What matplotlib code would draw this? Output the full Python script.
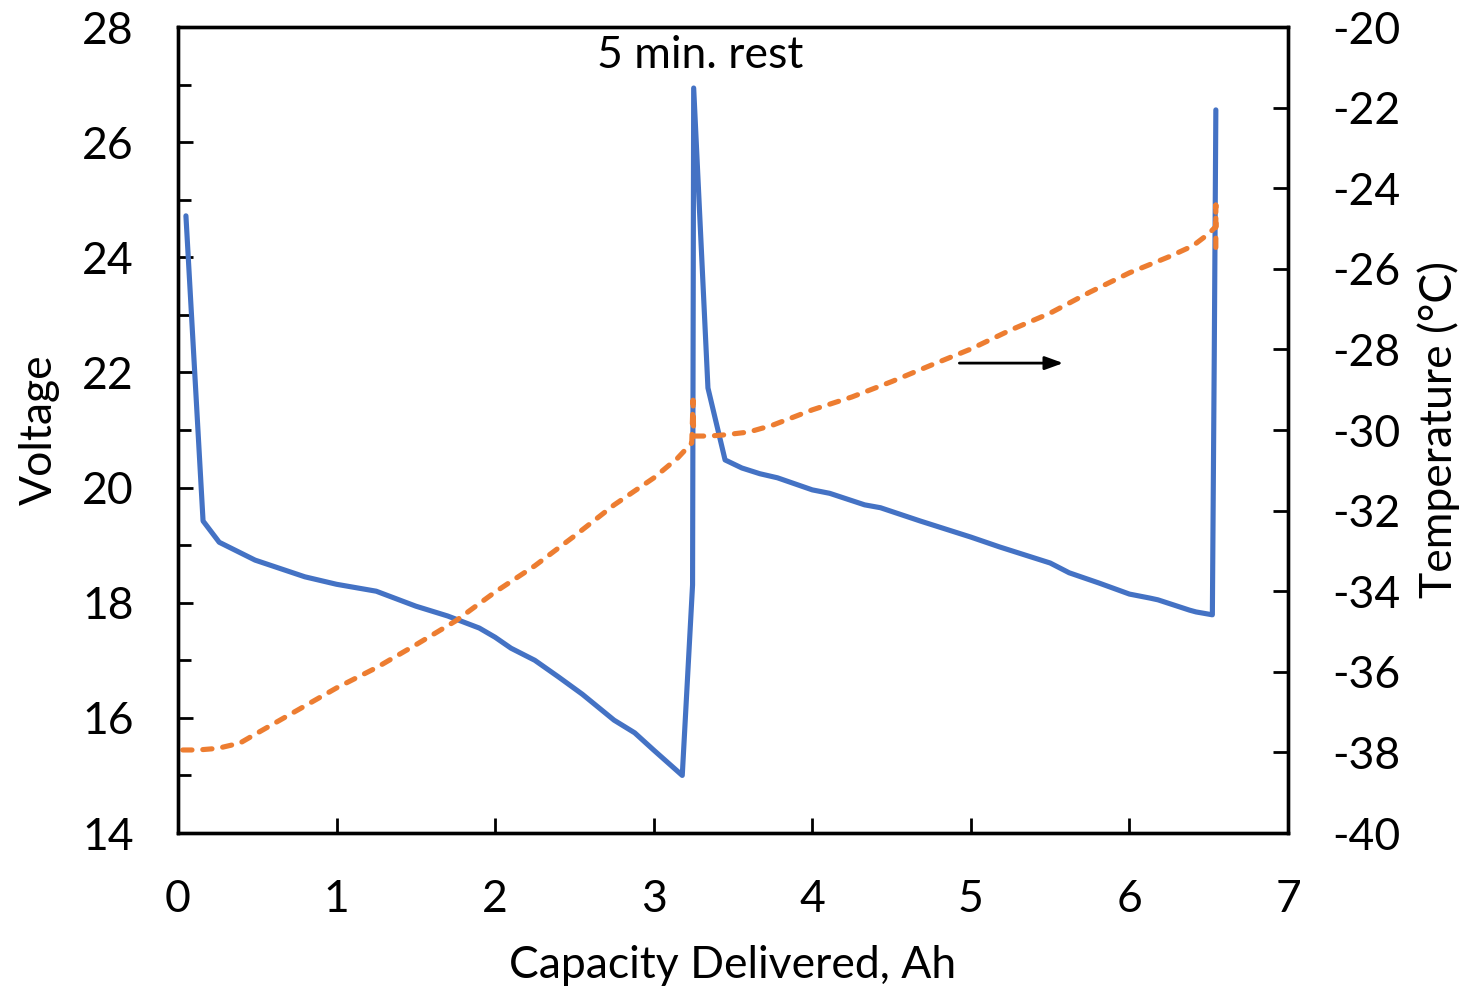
import matplotlib
matplotlib.use("Agg")
import matplotlib.pyplot as plt
from matplotlib.ticker import MultipleLocator

plt.rcParams['font.family'] = ['Lato', 'DejaVu Sans']
plt.rcParams['axes.unicode_minus'] = False

# Discharge voltage vs capacity (two discharge steps with a rest between)
cap_v = [0.05, 0.158, 0.26, 0.486, 0.8, 1.0, 1.25, 1.5, 1.7, 1.9, 2.0, 2.1, 2.25,
         2.4, 2.55, 2.75, 2.88, 3.0, 3.18, 3.245, 3.252, 3.342, 3.45, 3.556, 3.67,
         3.78, 4.0, 4.11, 4.33, 4.43, 4.68, 5.0, 5.18, 5.5, 5.62, 5.81, 6.0, 6.13,
         6.18, 6.38, 6.42, 6.523, 6.535, 6.545]
voltage = [24.72, 19.42, 19.05, 18.74, 18.45, 18.32, 18.2, 17.94, 17.77, 17.56, 17.4,
           17.21, 17.0, 16.71, 16.41, 15.96, 15.74, 15.44, 15.0, 18.31, 26.94, 21.73,
           20.48, 20.34, 20.24, 20.17, 19.96, 19.9, 19.7, 19.65, 19.42, 19.14, 18.97,
           18.69, 18.52, 18.34, 18.15, 18.08, 18.05, 17.87, 17.84, 17.79, 22.3, 26.56]

# Cell temperature vs capacity
cap_t = [0.03, 0.126, 0.25, 0.39, 0.5, 1.0, 1.25, 1.5, 1.75, 2.0, 2.25, 2.5, 2.75,
         3.0, 3.15, 3.24, 3.248, 3.252, 3.256, 3.35, 3.45, 3.6, 3.75, 4.0, 4.25,
         4.5, 4.75, 5.0, 5.25, 5.5, 5.75, 6.0, 6.25, 6.4, 6.5, 6.545, 6.545, 6.545]
temperature = [-37.94, -37.94, -37.9, -37.77, -37.52, -36.4, -35.9, -35.33, -34.74,
               -34.02, -33.37, -32.63, -31.86, -31.19, -30.7, -30.32, -29.26, -30.15,
               -30.15, -30.15, -30.12, -30.05, -29.88, -29.5, -29.18, -28.8, -28.39,
               -27.99, -27.52, -27.1, -26.58, -26.1, -25.7, -25.43, -25.13, -24.95,
               -24.42, -25.57]

x_ticks = [0, 1, 2, 3, 4, 5, 6, 7]
v_ticks = [14, 16, 18, 20, 22, 24, 26, 28]
t_ticks = [-40, -38, -36, -34, -32, -30, -28, -26, -24, -22, -20]

BLUE = '#4472C4'
ORANGE = '#ED7D31'
FS = 32

fig = plt.figure(figsize=(14.7, 9.9), dpi=100)
ax = fig.add_axes([178 / 1470, 1 - 833 / 990, (1288 - 178) / 1470, (833 - 27) / 990])
ax2 = ax.twinx()

ax.plot(cap_v, voltage, color=BLUE, lw=3.7, solid_joinstyle='round',
        solid_capstyle='round', zorder=3)
ax2.plot(cap_t, temperature, color=ORANGE, lw=3.7, linestyle=(0, (1.8, 2.1)),
         dash_capstyle='round', zorder=2)

ax.set_xlim(0, 7)
ax.set_ylim(14, 28)
ax2.set_ylim(-40, -20)
ax.set_xticks(x_ticks)
ax.set_yticks(v_ticks)
ax2.set_yticks(t_ticks)
ax.yaxis.set_minor_locator(MultipleLocator(1))

for a in (ax, ax2):
    for s in a.spines.values():
        s.set_linewidth(2.4)
        s.set_color('black')

ax.tick_params(axis='y', which='major', direction='in', length=11, width=2,
               labelsize=FS, pad=32)
ax.tick_params(axis='y', which='minor', direction='in', length=9, width=2)
ax.tick_params(axis='x', which='major', direction='in', length=11, width=2,
               labelsize=FS, pad=33)
ax2.tick_params(axis='y', which='major', direction='in', length=11, width=2,
                labelsize=FS, pad=32)

ax.set_xlabel('Capacity Delivered, Ah', fontsize=FS, labelpad=18)
ax.set_ylabel('Voltage', fontsize=FS, labelpad=16)
ax2.set_ylabel('Temperature (°C)', fontsize=FS, labelpad=12)

ax.text(3.29, 27.5, '5 min. rest', fontsize=FS, ha='center', va='center')
ax2.annotate('', xy=(5.6, -28.34), xytext=(4.91, -28.34),
             arrowprops=dict(arrowstyle='-|>,head_length=1.1,head_width=0.4',
                             color='black', lw=2.0))

fig.savefig('out.png', dpi=100)
